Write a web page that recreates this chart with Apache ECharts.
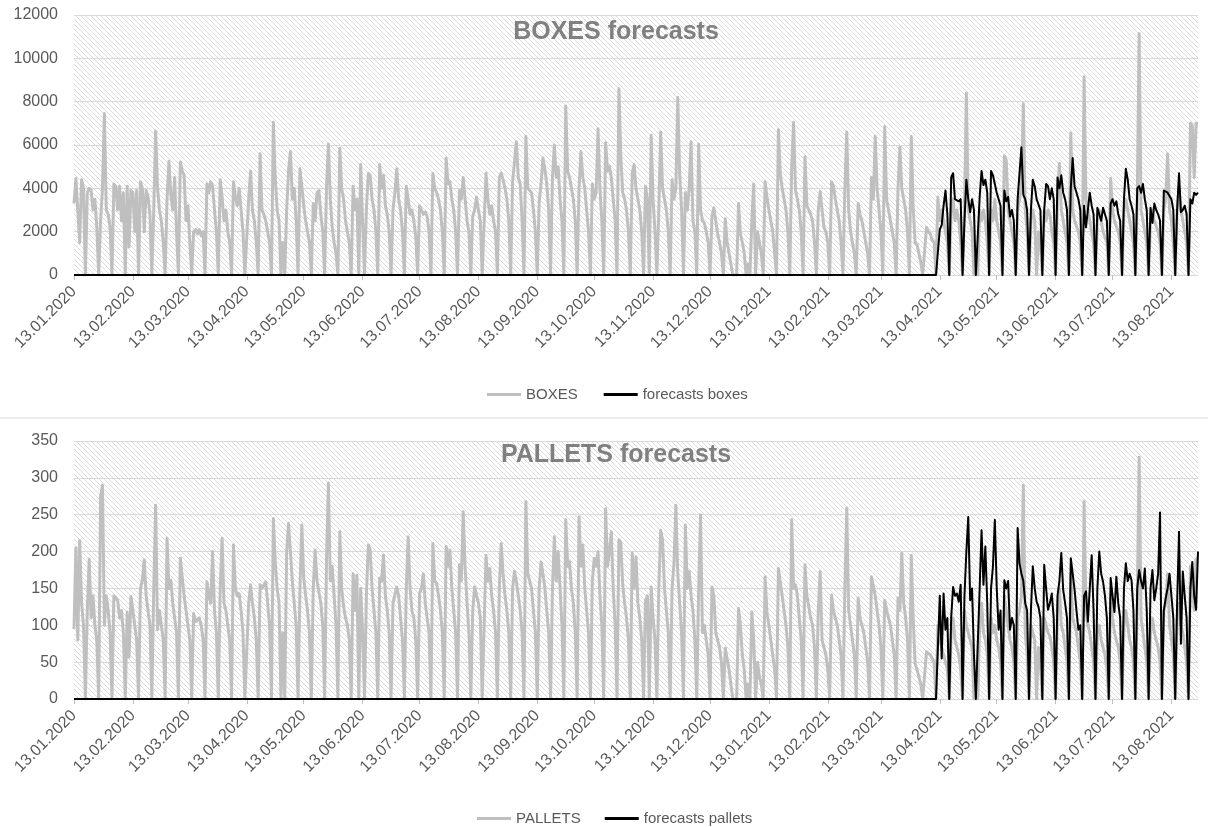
<!DOCTYPE html>
<html>
<head>
<meta charset="utf-8" />
<title>BOXES / PALLETS forecasts</title>
<script src="https://cdn.jsdelivr.net/npm/echarts@6.0.0/dist/echarts.min.js"></script>
<style>
  body { margin: 0; background: #fff; }
  #main { width: 1208px; height: 827px; }
</style>
</head>
<body>
<div id="main"></div>
<script type="text/javascript">
// daily series, first day Monday 13.01.2020, last day 27.08.2021
var firstDay = [2020, 0, 13];
var dayCount = 593;
var forecastFrom = 456; // 13.04.2021, forecast line sits on 0 before that

var monthTicks = ['13.01.2020', '13.02.2020', '13.03.2020', '13.04.2020', '13.05.2020', '13.06.2020',
  '13.07.2020', '13.08.2020', '13.09.2020', '13.10.2020', '13.11.2020', '13.12.2020',
  '13.01.2021', '13.02.2021', '13.03.2021', '13.04.2021', '13.05.2021', '13.06.2021',
  '13.07.2021', '13.08.2021'];

var boxesTicks = [0, 2000, 4000, 6000, 8000, 10000, 12000];
var palletsTicks = [0, 50, 100, 150, 200, 250, 300, 350];

// one row per week, Mon..Sun
var boxes = [
  3300, 4450, 4400, 1500, 4400, 4000, 0,
  3800, 4000, 3900, 3000, 3500, 2200, 0,
  2500, 4000, 7450, 3000, 2800, 2200, 0,
  4200, 4100, 3000, 4100, 2500, 3800, 0,
  4100, 1300, 3900, 3800, 2000, 3900, 0,
  4300, 4000, 2000, 3900, 3600, 2800, 0,
  3000, 6650, 4000, 3000, 2500, 1500, 0,
  3500, 5250, 3700, 3000, 4500, 2000, 0,
  5200, 4800, 4600, 2500, 3200, 1500, 0,
  2000, 2100, 1900, 2100, 1800, 2000, 0,
  4200, 3800, 4300, 4100, 3000, 2000, 0,
  4400, 3600, 2500, 3000, 2000, 1500, 0,
  4300, 3600, 3200, 4000, 3000, 2000, 0,
  0, 3500, 4800, 3000, 2500, 1500, 0,
  5600, 3000, 2800, 2500, 2000, 1500, 0,
  7050, 4500, 3000, 2500, 0, 1500, 0,
  3000, 4800, 5700, 3500, 4000, 2500, 0,
  4900, 4100, 3200, 2500, 2000, 1500, 0,
  3300, 2500, 3800, 3900, 2800, 2000, 0,
  4000, 6050, 3500, 2200, 1500, 1000, 0,
  5850, 4000, 3500, 2500, 2000, 1500, 0,
  4100, 3000, 3500, 0, 5100, 2500, 0,
  3000, 4700, 4600, 3500, 3000, 2000, 0,
  5100, 4000, 4600, 3200, 2800, 2000, 0,
  3000, 3800, 4900, 3500, 3000, 2000, 0,
  4100, 3500, 2800, 3000, 2500, 1800, 0,
  3200, 3000, 2800, 2900, 2700, 2000, 0,
  4700, 4000, 3800, 3500, 3000, 2000, 0,
  5400, 4200, 4300, 3500, 3000, 2000, 0,
  3900, 3500, 4500, 3500, 2500, 2000, 0,
  2700, 3000, 3600, 3000, 2500, 0, 0,
  4700, 3500, 2800, 3200, 2500, 2000, 0,
  4500, 4700, 4400, 4000, 3500, 2500, 0,
  4300, 4300, 6150, 4500, 4200, 2500, 0,
  6400, 4000, 4000, 3800, 3000, 2000, 0,
  3400, 4200, 5400, 4900, 4200, 3000, 0,
  4500, 6000, 4500, 5000, 3500, 2500, 0,
  7800, 4800, 4500, 4000, 3500, 2500, 0,
  4000, 5700, 4500, 4000, 3000, 2000, 0,
  4200, 3500, 3800, 6750, 4000, 2500, 0,
  6100, 4800, 5000, 4500, 3500, 2500, 0,
  8600, 5500, 3800, 3500, 3000, 2000, 0,
  4700, 5100, 4000, 3500, 3000, 2000, 0,
  4100, 3500, 0, 6450, 3500, 2000, 0,
  3000, 6600, 4000, 3500, 3000, 2000, 0,
  4400, 3500, 4000, 8200, 4700, 3000, 0,
  3800, 3000, 4000, 6150, 2500, 2000, 0,
  6050, 3000, 2500, 2400, 2000, 1500, 0,
  2700, 3100, 2500, 1900, 1500, 1000, 0,
  2600, 1500, 1000, 500, 0, 0, 0,
  3300, 1900, 1500, 1000, 0, 500, 0,
  2500, 4200, 0, 2000, 1500, 1000, 0,
  4300, 3600, 3000, 2500, 2000, 1000, 0,
  6700, 4700, 4000, 3500, 3000, 2000, 0,
  5000, 7050, 3900, 3500, 3000, 2000, 0,
  5450, 3200, 3000, 2800, 2500, 1500, 0,
  3000, 3850, 3000, 2200, 2000, 1500, 0,
  4300, 4100, 3500, 3000, 2500, 1500, 0,
  4000, 6600, 3000, 2000, 1500, 1000, 0,
  3300, 2800, 2500, 2000, 1500, 1000, 0,
  4500, 3500, 6400, 4000, 3000, 2000, 0,
  6850, 3500, 3000, 2500, 2000, 1500, 0,
  4000, 5900, 4000, 3500, 3000, 2000, 0,
  6400, 3100, 1500, 1400, 1000, 600, 0,
  0, 2200, 2000, 1900, 1600, 1500, 0,
  3600, 2500, 3000, 2500, 2000, 1500, 0,
  3000, 3500, 2500, 3000, 2500, 1500, 0,
  3000, 8400, 3000, 2500, 2000, 0, 0,
  0, 3000, 2500, 3000, 2500, 1500, 0,
  3000, 2500, 3500, 2500, 2000, 1500, 0,
  5500, 5300, 3000, 2500, 2000, 1500, 0,
  3000, 3500, 4000, 7900, 3000, 2000, 0,
  2500, 3000, 2500, 0, 2000, 1500, 0,
  3000, 2500, 3000, 2800, 2000, 1500, 0,
  3500, 5150, 3000, 2500, 2000, 1500, 0,
  6550, 3000, 2500, 2500, 2000, 1500, 0,
  9150, 3500, 3000, 2500, 2000, 1500, 0,
  2500, 3000, 2500, 2000, 2000, 1500, 0,
  4450, 3000, 2500, 2500, 2000, 1500, 0,
  3000, 3500, 3000, 2500, 2000, 1500, 0,
  3500, 11150, 3000, 2500, 2000, 1500, 0,
  2500, 3000, 2500, 2500, 2000, 1500, 0,
  3000, 3500, 5600, 3000, 2500, 1500, 0,
  3000, 4000, 3000, 2500, 2000, 1500, 0,
  7000, 6900, 4500, 7000, 7000
];

// from Tue 13.04.2021
var forecastBoxes = [
  2100, 2300, 3200, 3900, 2800, 0,
  4500, 4700, 3500, 3500, 3400, 3500, 0,
  2500, 4400, 3500, 2900, 3500, 3000, 0,
  0, 3600, 4800, 4150, 4400, 3800, 0,
  4800, 4600, 4200, 3800, 3500, 3200, 0,
  3900, 3400, 3600, 2700, 3000, 2500, 0,
  3500, 4700, 5900, 3700, 3500, 3000, 0,
  3000, 4400, 4100, 3500, 3500, 3000, 0,
  3000, 4200, 4100, 3500, 4000, 3500, 0,
  4500, 4000, 4600, 3800, 3500, 3000, 0,
  4000, 5400, 4100, 4100, 3500, 3000, 0,
  3200, 2200, 3000, 3800, 3200, 2800, 0,
  3100, 2800, 2500, 3100, 2800, 2500, 0,
  3300, 3500, 3200, 3400, 2800, 2500, 0,
  3500, 4900, 4400, 3500, 3200, 2800, 0,
  4000, 4100, 3800, 4200, 3500, 3000, 0,
  3100, 2400, 3300, 3000, 2800, 2500, 0,
  3900, 3900, 3800, 3800, 3500, 3000, 0,
  3000, 4700, 2900, 3000, 3200, 2800, 0,
  3500, 3300, 3800, 3700, 3800
];

var pallets = [
  95, 205, 80, 215, 130, 100, 0,
  120, 190, 110, 140, 100, 80, 0,
  275, 290, 100, 140, 120, 90, 0,
  140, 139, 134, 110, 120, 90, 0,
  118, 57, 139, 120, 100, 80, 0,
  150, 161, 189, 140, 120, 100, 0,
  150, 263, 94, 120, 100, 80, 0,
  218, 150, 161, 130, 110, 90, 0,
  191, 190, 140, 120, 100, 80, 0,
  116, 105, 103, 110, 100, 80, 0,
  159, 140, 130, 200, 120, 90, 0,
  150, 218, 130, 120, 100, 80, 0,
  209, 150, 140, 143, 120, 90, 0,
  0, 130, 155, 130, 110, 80, 0,
  155, 150, 150, 159, 130, 100, 0,
  245, 186, 150, 130, 0, 90, 0,
  200, 238, 238, 160, 130, 100, 0,
  150, 236, 164, 140, 120, 90, 0,
  150, 202, 160, 161, 130, 100, 0,
  190, 293, 160, 180, 140, 100, 0,
  227, 150, 125, 110, 100, 80, 0,
  170, 120, 168, 0, 150, 90, 0,
  140, 209, 202, 150, 120, 90, 0,
  164, 160, 195, 140, 120, 90, 0,
  130, 130, 152, 140, 110, 80, 0,
  150, 220, 150, 120, 110, 80, 0,
  143, 150, 170, 130, 110, 90, 0,
  211, 160, 157, 140, 120, 90, 0,
  207, 180, 202, 150, 120, 90, 0,
  182, 160, 254, 180, 130, 90, 0,
  120, 152, 150, 130, 110, 0, 0,
  195, 160, 177, 140, 120, 90, 0,
  150, 211, 170, 140, 120, 90, 0,
  150, 173, 160, 140, 120, 90, 0,
  268, 170, 170, 150, 120, 90, 0,
  150, 186, 170, 150, 120, 90, 0,
  150, 220, 160, 200, 150, 100, 0,
  243, 180, 186, 150, 130, 90, 0,
  247, 180, 209, 150, 120, 90, 0,
  160, 191, 180, 200, 140, 100, 0,
  258, 180, 200, 227, 150, 100, 0,
  216, 213, 155, 130, 110, 80, 0,
  198, 150, 193, 130, 110, 80, 0,
  134, 140, 0, 152, 110, 80, 0,
  150, 229, 216, 150, 120, 90, 0,
  150, 184, 263, 170, 130, 90, 0,
  236, 150, 173, 140, 120, 80, 0,
  150, 250, 90, 100, 80, 60, 0,
  152, 140, 90, 80, 70, 50, 0,
  69, 70, 40, 20, 0, 0, 0,
  123, 100, 60, 40, 0, 20, 0,
  118, 82, 0, 50, 30, 20, 0,
  166, 116, 100, 80, 60, 40, 0,
  177, 175, 140, 120, 100, 70, 0,
  243, 150, 155, 140, 110, 80, 0,
  182, 140, 125, 110, 100, 70, 0,
  120, 173, 80, 70, 60, 40, 0,
  141, 120, 110, 100, 80, 60, 0,
  150, 259, 120, 100, 80, 60, 0,
  137, 110, 100, 90, 70, 50, 0,
  166, 166, 140, 120, 100, 70, 0,
  134, 121, 110, 100, 80, 60, 0,
  137, 120, 198, 130, 110, 80, 0,
  195, 110, 48, 40, 30, 20, 0,
  0, 64, 66, 60, 55, 50, 0,
  100, 80, 70, 60, 50, 40, 0,
  90, 110, 80, 70, 60, 40, 0,
  120, 100, 90, 80, 70, 0, 0,
  0, 100, 130, 90, 80, 60, 0,
  110, 90, 100, 80, 70, 50, 0,
  140, 120, 100, 80, 70, 50, 0,
  110, 120, 140, 290, 90, 60, 0,
  100, 90, 80, 0, 70, 50, 0,
  110, 100, 90, 85, 70, 50, 0,
  120, 150, 100, 90, 70, 50, 0,
  170, 110, 100, 90, 70, 50, 0,
  268, 120, 100, 90, 70, 50, 0,
  90, 100, 80, 70, 60, 40, 0,
  140, 110, 90, 80, 70, 50, 0,
  100, 120, 100, 80, 70, 50, 0,
  130, 328, 110, 90, 70, 50, 0,
  90, 110, 90, 80, 70, 50, 0,
  120, 130, 170, 100, 80, 60, 0,
  110, 130, 100, 90, 70, 50, 0,
  180, 170, 120, 190, 190
];

var forecastPallets = [
  140, 55, 143, 94, 110, 0,
  110, 152, 140, 143, 132, 155, 0,
  140, 200, 247, 134, 150, 60, 0,
  0, 150, 229, 155, 207, 130, 0,
  150, 180, 243, 150, 94, 120, 0,
  161, 150, 160, 94, 110, 100, 0,
  232, 184, 170, 160, 130, 120, 0,
  120, 180, 150, 132, 125, 110, 0,
  182, 150, 121, 130, 143, 110, 0,
  140, 160, 198, 148, 130, 110, 0,
  191, 170, 148, 120, 94, 100, 0,
  140, 146, 105, 150, 195, 120, 0,
  150, 200, 170, 159, 140, 110, 0,
  164, 140, 118, 166, 130, 110, 0,
  150, 184, 160, 170, 161, 120, 0,
  150, 175, 160, 150, 177, 120, 0,
  150, 175, 134, 150, 170, 253, 0,
  120, 137, 150, 170, 140, 110, 0,
  130, 227, 75, 173, 140, 110, 0,
  150, 186, 140, 121, 200
];

function pad(n) { return n < 10 ? '0' + n : '' + n; }

var dates = [];
for (var i = 0; i < dayCount; i++) {
  var d = new Date(firstDay[0], firstDay[1], firstDay[2] + i);
  dates.push(pad(d.getDate()) + '.' + pad(d.getMonth() + 1) + '.' + d.getFullYear());
}

function beforeForecast(list) {
  var out = [];
  for (var i = 0; i < forecastFrom; i++) out.push(0);
  return out.concat(list);
}

function isMonthTick(index, value) {
  return monthTicks.indexOf(value) >= 0;
}

// light diagonal hatch used as plot background
function hatch() {
  var s = 5;
  var c = document.createElement('canvas');
  c.width = s; c.height = s;
  var g = c.getContext('2d');
  g.fillStyle = '#ffffff';
  g.fillRect(0, 0, s, s);
  g.strokeStyle = '#dcdcdc';
  g.lineWidth = 1;
  g.beginPath();
  g.moveTo(-1, -1); g.lineTo(s + 1, s + 1);
  g.moveTo(-1, s - 1); g.lineTo(1, s + 1);
  g.moveTo(s - 1, -1); g.lineTo(s + 1, 1);
  g.stroke();
  return c;
}

var pattern = { image: hatch(), repeat: 'repeat' };
var labelFont = 'Liberation Sans';

function xAxisFor(gridIndex) {
  return {
    type: 'category',
    gridIndex: gridIndex,
    data: dates,
    boundaryGap: false,
    axisLine: { lineStyle: { color: '#d9d9d9', width: 1 } },
    axisTick: { show: true, interval: isMonthTick, length: 5, lineStyle: { color: '#bfbfbf' } },
    axisLabel: {
      interval: isMonthTick, rotate: 45, margin: 14,
      color: '#595959', fontSize: 16, fontFamily: labelFont
    },
    splitLine: { show: false }
  };
}

function yAxisFor(gridIndex, ticks) {
  return {
    type: 'value',
    gridIndex: gridIndex,
    min: ticks[0],
    max: ticks[ticks.length - 1],
    interval: ticks[1] - ticks[0],
    axisLine: { show: false },
    axisTick: { show: false },
    axisLabel: {
      color: '#595959', fontSize: 16, fontFamily: labelFont, margin: 16,
      formatter: function (v) { return String(v); }
    },
    splitLine: { lineStyle: { color: '#d9d9d9', width: 1 } }
  };
}

function lineSeries(name, axis, data, color, width, z) {
  return {
    name: name,
    type: 'line',
    xAxisIndex: axis,
    yAxisIndex: axis,
    data: data,
    symbol: 'none',
    showSymbol: false,
    z: z,
    itemStyle: { color: color },
    lineStyle: { color: color, width: width, join: 'round' }
  };
}

function legendFor(names, left, top, gap) {
  return {
    data: [
      { name: names[0], icon: 'rect', itemStyle: { color: '#bfbfbf' } },
      { name: names[1], icon: 'rect', itemStyle: { color: '#000000' } }
    ],
    left: left, top: top,
    itemWidth: 34, itemHeight: 3, itemGap: gap,
    textStyle: { color: '#595959', fontSize: 15, fontFamily: labelFont }
  };
}

var chart = echarts.init(document.getElementById('main'));

var option = {
  animation: false,
  backgroundColor: '#ffffff',
  grid: [
    { left: 74, right: 10, top: 15, height: 260, show: true, borderWidth: 0, backgroundColor: pattern },
    { left: 74, right: 10, top: 441, height: 258, show: true, borderWidth: 0, backgroundColor: pattern }
  ],
  xAxis: [xAxisFor(0), xAxisFor(1)],
  yAxis: [yAxisFor(0, boxesTicks), yAxisFor(1, palletsTicks)],
  legend: [
    legendFor(['BOXES', 'forecasts boxes'], 482, 382, 26),
    legendFor(['PALLETS', 'forecasts pallets'], 472, 806, 24)
  ],
  graphic: [
    {
      type: 'text', x: 616, y: 32, z: 10,
      style: { text: 'BOXES forecasts', fill: '#808080', font: 'bold 25px "Liberation Sans"', textAlign: 'center', textVerticalAlign: 'middle' }
    },
    {
      type: 'text', x: 616, y: 455, z: 10,
      style: { text: 'PALLETS forecasts', fill: '#808080', font: 'bold 25px "Liberation Sans"', textAlign: 'center', textVerticalAlign: 'middle' }
    },
    {
      type: 'line', z: 10,
      shape: { x1: 0, y1: 418, x2: 1208, y2: 418 },
      style: { stroke: '#d9d9d9', lineWidth: 1 }
    }
  ],
  series: [
    lineSeries('BOXES', 0, boxes, '#bfbfbf', 3, 2),
    lineSeries('forecasts boxes', 0, beforeForecast(forecastBoxes), '#000000', 2, 3),
    lineSeries('PALLETS', 1, pallets, '#bfbfbf', 3, 2),
    lineSeries('forecasts pallets', 1, beforeForecast(forecastPallets), '#000000', 2, 3)
  ]
};

chart.setOption(option);
</script>
</body>
</html>
